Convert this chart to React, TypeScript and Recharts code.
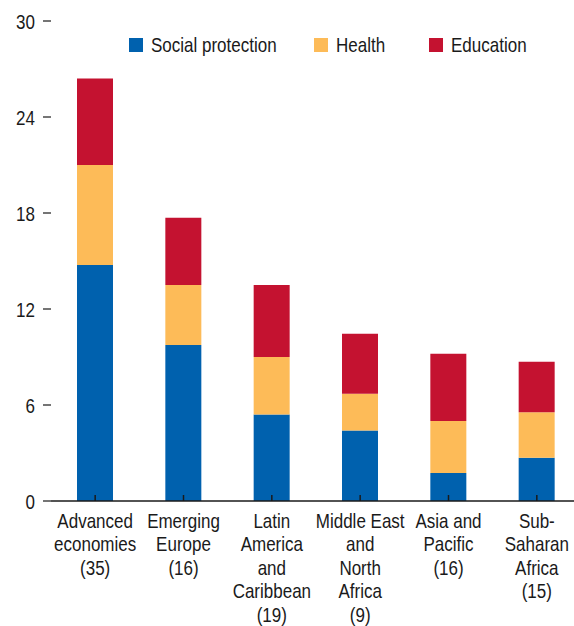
import { BarChart, Bar, XAxis, YAxis } from 'recharts'

const regions = [
  'Advanced|economies|(35)',
  'Emerging|Europe|(16)',
  'Latin|America|and|Caribbean|(19)',
  'Middle East|and|North|Africa|(9)',
  'Asia and|Pacific|(16)',
  'Sub-|Saharan|Africa|(15)',
]
const socialProtection = [14.75, 9.75, 5.4, 4.4, 1.75, 2.7]
const health = [6.25, 3.75, 3.6, 2.3, 3.25, 2.85]
const education = [5.4, 4.2, 4.5, 3.75, 4.2, 3.15]
const yTicks = [0, 6, 12, 18, 24, 30]

const series = [
  { key: 'social', name: 'Social protection', color: '#0061ae' },
  { key: 'health', name: 'Health', color: '#fdbb58' },
  { key: 'education', name: 'Education', color: '#c41230' },
]
// legend swatch x positions (chart coords)
const legendX = [121, 306, 421]

const data = regions.map((r, i) => ({
  region: r,
  social: socialProtection[i],
  health: health[i],
  education: education[i],
}))

const FONT = '"Liberation Sans", Arial, sans-serif'
const NARROW = 'scale(0.81,1)'
const INK = '#1a1a1a'

function RegionTick({ x, y, payload }: { x?: number; y?: number; payload?: { value: string } }) {
  const lines = (payload?.value ?? '').split('|')
  return (
    <g transform={`translate(${x},${y})`}>
      <line x1={0} y1={0} x2={0} y2={-6} stroke={INK} strokeWidth={1.5} />
      {lines.map((l, i) => (
        <text key={i} x={0} y={27 + i * 23.5} transform={NARROW} textAnchor="middle"
          fill={INK} fontSize={21} fontFamily={FONT}>{l}</text>
      ))}
    </g>
  )
}

function ValueTick({ x, y, payload }: { x?: number; y?: number; payload?: { value: number } }) {
  return (
    <g transform={`translate(${x},${y})`}>
      <text x={0} y={0} dy="0.36em" transform={NARROW} textAnchor="end"
        fill={INK} fontSize={21} fontFamily={FONT}>{payload?.value}</text>
    </g>
  )
}

export default function App() {
  return (
    <div style={{ position: 'absolute', left: 0, top: 0, width: 574, height: 626, overflow: 'hidden' }}>
      <div style={{ position: 'absolute', left: 8, top: 8 }}>
        <BarChart width={573} height={618} data={data} barSize={36}
          margin={{ top: 13, right: 0, bottom: 0, left: 0 }}>
          <YAxis domain={[0, 30]} ticks={yTicks} width={43} axisLine={false}
            tickSize={8} tickMargin={8} tickLine={{ stroke: INK, strokeWidth: 1.2 }}
            tick={<ValueTick />} />
          {series.map(s => (
            <Bar key={s.key} dataKey={s.key} name={s.name} stackId="a" fill={s.color}
              isAnimationActive={false} />
          ))}
          <XAxis dataKey="region" height={125} interval={0} tickSize={0} tickMargin={0}
            tickLine={false} axisLine={{ stroke: INK, strokeWidth: 1.5 }}
            tick={<RegionTick />} />
        </BarChart>
        <svg width={566} height={60} style={{ position: 'absolute', top: 0, left: 0 }}>
          {series.map((s, i) => (
            <g key={s.key} transform={`translate(${legendX[i]},30)`}>
              <rect x={0} y={0} width={14} height={14} fill={s.color} />
              <text x={22 / 0.81} y={14} transform={NARROW} fill={INK} fontSize={21}
                fontFamily={FONT}>{s.name}</text>
            </g>
          ))}
        </svg>
      </div>
    </div>
  )
}
